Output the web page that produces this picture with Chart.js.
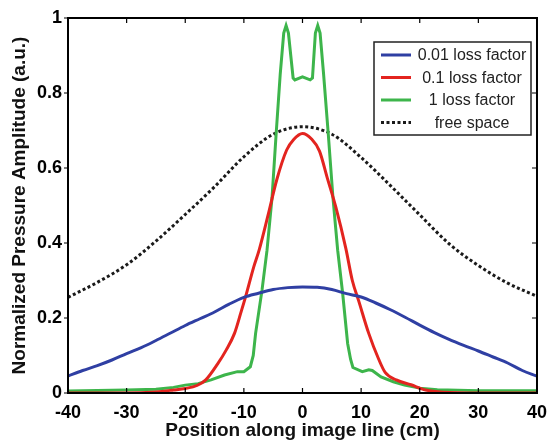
<!DOCTYPE html>
<html lang="en">
<head>
  <meta charset="UTF-8">
  <title>Pressure amplitude</title>
  <style>
    html, body { margin: 0; padding: 0; background: #fff; }
    #wrap { width: 556px; height: 442px; }
  </style>
</head>
<body>
  <div id="wrap"><canvas id="myChart" width="556" height="442"></canvas></div>
  <script src="https://cdn.jsdelivr.net/npm/chart.js"></script>
  <script>
    // values (x in cm, y normalized)
    const seriesNames = ['0.01 loss factor', '0.1 loss factor', '1 loss factor', 'free space']

    const blueX = [-40, -37.5, -35, -32.5, -30, -27.5, -25, -22.5, -20, -17.5, -15, -12.5, -10, -7.5, -5, -2.5, 0, 2.5, 5, 7.5, 10, 12.5, 15, 17.5, 20, 22.5, 25, 27.5, 30, 32.5, 35, 37.5, 40]
    const blueY = [0.045, 0.06, 0.073, 0.088, 0.105, 0.121, 0.14, 0.16, 0.18, 0.198, 0.216, 0.237, 0.255, 0.266, 0.276, 0.281, 0.283, 0.282, 0.276, 0.265, 0.256, 0.24, 0.222, 0.202, 0.181, 0.161, 0.143, 0.127, 0.112, 0.096, 0.08, 0.06, 0.045]

    const redX = [-40, -30, -25, -22, -20, -18, -16.5, -14.5, -13, -11.6, -10.5, -9.7, -8.3, -7.4, -5.8, -4.4, -2.7, -1.5, 0, 1.5, 2.9, 4.2, 5.7, 7.4, 8.5, 9.6, 11.3, 13.0, 14.1, 16, 18.5, 21, 24, 30, 40]
    const redY = [0, 0, 0.003, 0.008, 0.012, 0.02, 0.035, 0.077, 0.115, 0.159, 0.215, 0.257, 0.337, 0.381, 0.479, 0.568, 0.648, 0.676, 0.692, 0.678, 0.645, 0.575, 0.495, 0.385, 0.3, 0.245, 0.159, 0.09, 0.055, 0.035, 0.022, 0.008, 0.002, 0, 0]

    const greenX = [-40, -30, -25, -22, -20, -17.8, -15.6, -13.3, -11.1, -10, -8.9, -8.4, -8.0, -6.9, -6.05, -5.2, -4.5, -3.8, -3.2, -2.8, -2.4, -1.6, -1.3, 0, 1.3, 1.7, 2.2, 2.6, 3.0, 3.6, 4.4, 5.2, 6.0, 6.85, 7.7, 8.2, 8.6, 10.2, 11.3, 11.9, 13.4, 15.5, 17.4, 20, 23, 30, 40]
    const greenY = [0.005, 0.008, 0.01, 0.015, 0.021, 0.025, 0.035, 0.048, 0.057, 0.057, 0.07, 0.1, 0.159, 0.275, 0.381, 0.52, 0.69, 0.85, 0.96, 0.98, 0.96, 0.84, 0.835, 0.843, 0.835, 0.84, 0.96, 0.98, 0.96, 0.85, 0.69, 0.52, 0.381, 0.266, 0.132, 0.09, 0.068, 0.057, 0.062, 0.06, 0.043, 0.03, 0.021, 0.013, 0.009, 0.006, 0.006]

    const freeX = [-40, -35, -30, -25, -20, -15, -10, -5, 0, 5, 10, 15, 20, 25, 30, 35, 40]
    const freeY = [0.255, 0.295, 0.342, 0.405, 0.476, 0.55, 0.63, 0.69, 0.71, 0.69, 0.628, 0.553, 0.475, 0.398, 0.34, 0.293, 0.258]

    const xTicks = [-40, -30, -20, -10, 0, 10, 20, 30, 40]
    const yTicks = [0, 0.2, 0.4, 0.6, 0.8, 1]

    const pts = (xs, ys) => xs.map((x, i) => ({ x: x, y: ys[i] }))
    const FONT = '"Liberation Sans", Arial, sans-serif'

    // box frame with MATLAB style inward ticks
    const frame = {
      id: 'frame',
      afterDatasetsDraw(chart) {
        const { ctx, chartArea: a, scales } = chart
        ctx.save()
        ctx.strokeStyle = '#000'
        ctx.lineWidth = 2
        ctx.strokeRect(a.left, a.top, a.right - a.left, a.bottom - a.top)
        ctx.lineWidth = 1.2
        ctx.beginPath()
        xTicks.forEach(v => {
          const px = scales.x.getPixelForValue(v)
          ctx.moveTo(px, a.bottom); ctx.lineTo(px, a.bottom - 5)
          ctx.moveTo(px, a.top); ctx.lineTo(px, a.top + 5)
        })
        yTicks.forEach(v => {
          const py = scales.y.getPixelForValue(v)
          ctx.moveTo(a.right, py); ctx.lineTo(a.right - 5, py)
          ctx.moveTo(a.left, py); ctx.lineTo(a.left - 4, py)
        })
        ctx.stroke()
        ctx.restore()
      }
    }

    // legend box inside the plot, text centred like MATLAB
    const boxLegend = {
      id: 'boxLegend',
      afterDraw(chart) {
        const ctx = chart.ctx
        const x0 = 374, y0 = 42, w = 157, h = 93
        ctx.save()
        ctx.fillStyle = '#fff'
        ctx.fillRect(x0, y0, w, h)
        ctx.strokeStyle = '#222'
        ctx.lineWidth = 1.5
        ctx.strokeRect(x0, y0, w, h)
        ctx.font = '16px ' + FONT
        ctx.textAlign = 'center'
        ctx.textBaseline = 'middle'
        chart.data.datasets.forEach((ds, i) => {
          const yy = y0 + 13 + i * 22.5
          ctx.strokeStyle = ds.borderColor
          ctx.lineWidth = ds.borderWidth
          ctx.setLineDash(ds.borderDash || [])
          ctx.beginPath()
          ctx.moveTo(381, yy); ctx.lineTo(411, yy)
          ctx.stroke()
          ctx.setLineDash([])
          ctx.fillStyle = '#222'
          ctx.fillText(ds.label, 472, yy + 1)
        })
        ctx.restore()
      }
    }

    const ctx = document.getElementById('myChart')

    new Chart(ctx, {
      type: 'line',
      data: {
        datasets: [
          { label: seriesNames[0], data: pts(blueX, blueY), borderColor: '#2f3fa3', borderWidth: 3, cubicInterpolationMode: 'monotone' },
          { label: seriesNames[1], data: pts(redX, redY), borderColor: '#e3241f', borderWidth: 3, cubicInterpolationMode: 'monotone' },
          { label: seriesNames[2], data: pts(greenX, greenY), borderColor: '#3db54b', borderWidth: 3, tension: 0 },
          { label: seriesNames[3], data: pts(freeX, freeY), borderColor: '#1a1a1a', borderWidth: 3, borderDash: [3, 2.5], cubicInterpolationMode: 'monotone' }
        ]
      },
      options: {
        responsive: false,
        animation: false,
        events: [],
        elements: { point: { radius: 0 } },
        layout: { padding: { top: 18, right: 12, left: 0, bottom: 0 } },
        plugins: { legend: { display: false }, tooltip: { enabled: false } },
        scales: {
          x: {
            type: 'linear',
            min: -40, max: 40,
            afterFit: s => { s.height = 49 },
            afterBuildTicks: s => { s.ticks = xTicks.map(v => ({ value: v })) },
            grid: { display: false, drawTicks: false },
            border: { display: false },
            ticks: { color: '#000', padding: 9, maxRotation: 0, callback: v => String(v), font: { family: FONT, size: 18, weight: 'bold' } },
            title: { display: true, text: 'Position along image line (cm)', color: '#111', padding: { top: 0, bottom: 0 }, font: { family: FONT, size: 19, weight: 'bold' } }
          },
          y: {
            min: 0, max: 1,
            afterFit: s => { s.width = 68 },
            afterBuildTicks: s => { s.ticks = yTicks.map(v => ({ value: v })) },
            grid: { display: false, drawTicks: false },
            border: { display: false },
            ticks: { color: '#000', padding: 6, callback: v => String(v), font: { family: FONT, size: 18, weight: 'bold' } },
            title: { display: true, text: 'Normalized Pressure Amplitude (a.u.)', color: '#111', padding: { top: 8, bottom: 0 }, font: { family: FONT, size: 19, weight: 'bold' } }
          }
        }
      },
      plugins: [frame, boxLegend]
    });
  </script>
</body>
</html>
